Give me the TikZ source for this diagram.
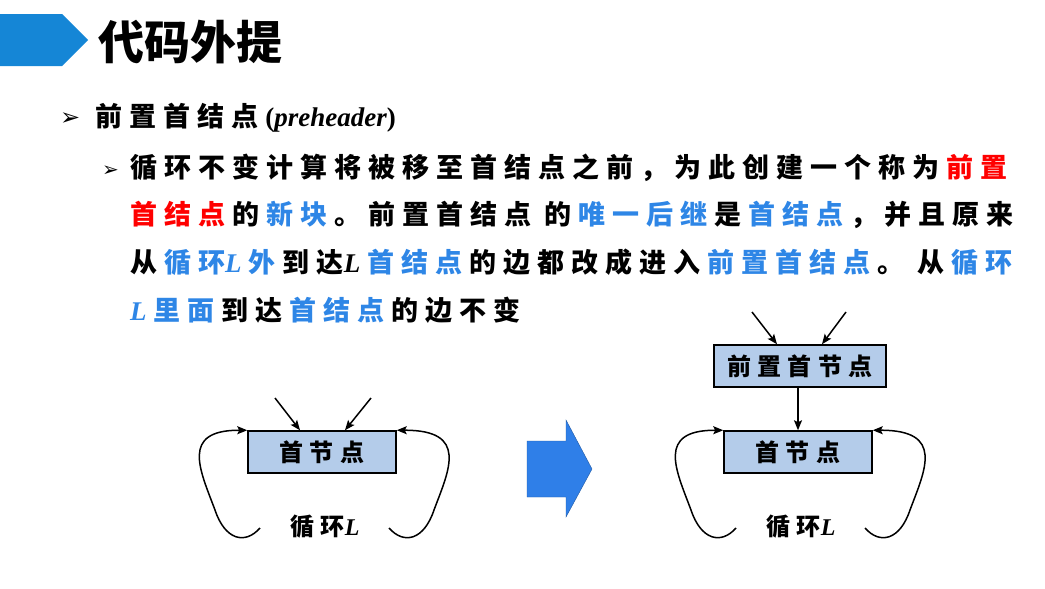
\documentclass[tikz,border=0pt]{standalone}
\usepackage{fontspec}
\setmainfont{Liberation Serif}
\newfontfamily\cjk{Noto Sans CJK SC}
\newfontfamily\cjkwide[LetterSpace=26]{Noto Sans CJK SC}
\newfontfamily\symfont{DejaVu Sans}
\usetikzlibrary{positioning}
\usetikzlibrary{arrows.meta}
\definecolor{hdblue}{RGB}{21,134,214}
\definecolor{kwblue}{RGB}{46,134,230}
\definecolor{boxfill}{RGB}{180,204,234}
\definecolor{bigarrow}{RGB}{47,127,232}
\tikzstyle{blk} = [draw,line width=1.5pt,fill=boxfill,minimum height=42pt,inner sep=0pt,font=\cjkwide\bfseries\fontsize{24}{24}\selectfont]
\tikzstyle{arrow} = [line width=1.5pt,-{Stealth[length=10pt,width=8pt,inset=2pt]}]
\tikzstyle{line} = [anchor=base west,inner sep=0pt,font=\cjkwide\bfseries\fontsize{27}{27}\selectfont]
\newcommand{\ls}{\hspace{0.26em}}
\newcommand{\kw}[1]{\ls\textcolor{kwblue}{#1}\ls}
\newcommand{\kwz}[1]{\textcolor{kwblue}{#1}\ls}
\newcommand{\hl}[1]{\ls\textcolor{red}{#1}\ls}
\newcommand{\hlz}[1]{\textcolor{red}{#1}\ls}
\newcommand{\LL}{{\rmfamily\itshape L}}
\begin{document}
\begin{tikzpicture}[x=1pt,y=-1pt]
\useasboundingbox (0,0) rectangle (1045,589);
%Title
\fill[hdblue] (0,14) -- (62,14) -- (88,40) -- (62,66) -- (0,66) -- cycle;
\node[anchor=west,inner sep=0pt,font=\cjk\bfseries\fontsize{46}{46}\selectfont] (title) at (98,42) {代码外提};
%Bullets
\node[anchor=base west,inner sep=0pt,font=\symfont\fontsize{24}{24}\selectfont] (b1) at (60,125) {➢};
\node[line] (l0) at (95,126) {前置首结点\ls{\rmfamily\bfseries(\itshape preheader\upshape)}};
\node[anchor=base west,inner sep=0pt,font=\symfont\fontsize{20}{20}\selectfont] (b2) at (102,176) {➢};
\node[line] (l1) at (130,177) {循环不变计算将被移至首结点之前，为此创建一个称为\hl{前置}};
\node[line] (l2) at (130,224) {\hlz{首结点}的\kw{新块}。前置首结点 的\kw{唯一后继}是\kw{首结点}，并且原来};
\node[line] (l3) at (130,272) {从\kw{循环\LL\ls 外}到达\LL\kw{首结点}的边都改成进入\kw{前置首结点}。 从\kw{循环}};
\node[line] (l4) at (130,320) {\kwz{\LL\ls 里面}到达\kw{首结点}的边不变};
%Left diagram
\node[blk,minimum width=148pt] (hdr) at (322,452) {首节点};
\node[font=\cjkwide\bfseries\fontsize{24}{24}\selectfont] (loopA) at (325,527) {循环\LL};
\coordinate (inA1) at (275,398);
\coordinate (inA2) at (371,398);
\draw[arrow] (inA1) -- ([xshift=-22pt]hdr.north);
\draw[arrow] (inA2) -- ([xshift=23pt]hdr.north);
\draw[arrow] (260,528) .. controls (245,545) and (225,540) .. (215,510) .. controls (200,470) and (180,430) .. (hdr.north west);
\draw[arrow] (389,528) .. controls (404,545) and (424,540) .. (434,510) .. controls (449,470) and (469,430) .. (hdr.north east);
%Big arrow
\draw[bigarrow!70!black,fill=bigarrow] (527,441) -- (566,441) -- (566,420) -- (592,469) -- (566,517) -- (566,497) -- (527,497) -- cycle;
%Right diagram
\node[blk,minimum width=148pt] (hdrB) at (798,452) {首节点};
\node[blk,minimum width=172pt] (pre) at (800,366) {前置首节点};
\node[font=\cjkwide\bfseries\fontsize{24}{24}\selectfont] (loopB) at (801,527) {循环\LL};
\coordinate (inB1) at (752,312);
\coordinate (inB2) at (846,312);
\draw[arrow] (inB1) -- ([xshift=-23pt]pre.north);
\draw[arrow] (inB2) -- ([xshift=22pt]pre.north);
\draw[arrow] (pre.south -| hdrB.north) -- (hdrB.north);
\draw[arrow] (736,528) .. controls (721,545) and (701,540) .. (691,510) .. controls (676,470) and (656,430) .. (hdrB.north west);
\draw[arrow] (865,528) .. controls (880,545) and (900,540) .. (910,510) .. controls (925,470) and (945,430) .. (hdrB.north east);
\end{tikzpicture}
\end{document}
